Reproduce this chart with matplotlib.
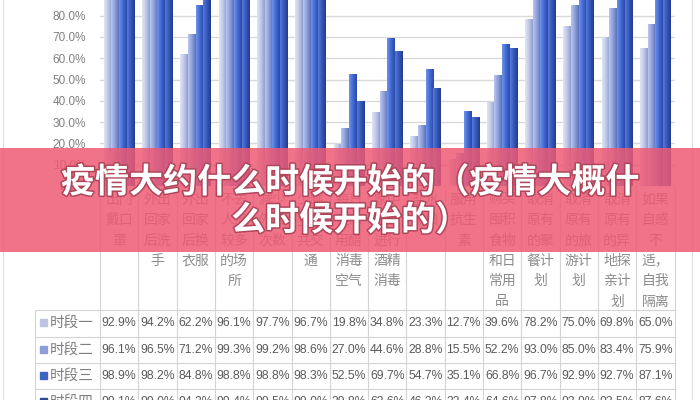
import matplotlib
matplotlib.use("Agg")
import matplotlib.pyplot as plt
import matplotlib.patheffects as pe
from matplotlib.colors import LinearSegmentedColormap
import numpy as np

plt.rcParams['font.family'] = ['Noto Sans CJK SC', 'DejaVu Sans']

# --- data ---
categories = [
    ["出门", "戴口", "罩"],
    ["外出", "回家", "后洗", "手"],
    ["外出", "回家", "后换", "衣服"],
    ["不去", "人流", "较多", "的场", "所"],
    ["减少", "外出", "次数"],
    ["少乘", "坐公", "共交", "通"],
    ["每日", "在家", "用醋", "消毒", "空气"],
    ["家中", "经常", "进行", "酒精", "消毒"],
    ["盐水", "漱口"],
    ["服用", "抗生", "素"],
    ["购买", "囤积", "食物", "和日", "常用", "品"],
    ["取消", "原有", "的聚", "餐计", "划"],
    ["取消", "原有", "的旅", "游计", "划"],
    ["取消", "原有", "的异", "地探", "亲计", "划"],
    ["如果", "自感", "不", "适，", "自我", "隔离"],
]
series_names = ["时段一", "时段二", "时段三", "时段四"]
period1 = [92.9, 94.2, 62.2, 96.1, 97.7, 96.7, 19.8, 34.8, 23.3, 12.7, 39.6, 78.2, 75.0, 69.8, 65.0]
period2 = [96.1, 96.5, 71.2, 99.3, 99.2, 98.6, 27.0, 44.6, 28.8, 15.5, 52.2, 93.0, 85.0, 83.4, 75.9]
period3 = [98.9, 98.2, 84.8, 98.8, 98.8, 98.3, 52.5, 69.7, 54.7, 35.1, 66.8, 96.7, 92.9, 92.7, 87.1]
period4 = [99.1, 99.0, 94.2, 99.4, 99.5, 99.0, 39.8, 63.6, 46.2, 32.4, 64.6, 97.8, 93.9, 93.5, 87.6]
series = [period1, period2, period3, period4]
yticks = list(range(0, 101, 10))
title_lines = ["疫情大约什么时候开始的（疫情大概什", "么时候开始的）"]

# --- styles ---
swatch = ["#BCC4E2", "#8C9FD8", "#3D64C4", "#2C4A98"]
gradients = [
    ["#E2E6F4", "#BFC8E8", "#909ECE"],
    ["#BCC7EE", "#8C9FDC", "#5D72B6"],
    ["#7193E8", "#4069D4", "#2A49A6"],
    ["#5679D8", "#3557BC", "#223C88"],
]
W, H = 700, 400
col_left, col_w = 100, 38.3
axis_zero_px = 186
px_per_10 = 21.3

fig = plt.figure(figsize=(7, 4), dpi=100)
ax = fig.add_axes([col_left / W, (H - axis_zero_px) / H,
                   col_w * len(categories) / W, px_per_10 * 10 / H])
x = np.arange(len(categories))
bw = 0.2
for k, vals in enumerate(series):
    bars = ax.bar(x + (k - 1.5) * bw, vals, width=bw, color=swatch[k],
                  edgecolor="none", zorder=2)
    # horizontal shading to mimic the cylinder look
    cmap = LinearSegmentedColormap.from_list(f"g{k}", gradients[k])
    grad = np.linspace(0, 1, 64).reshape(1, -1)
    for b in bars:
        im = ax.imshow(grad, cmap=cmap, aspect="auto", zorder=3,
                       extent=[b.get_x(), b.get_x() + b.get_width(), 0, b.get_height()])
        im.set_clip_path(b)
ax.set_xlim(-0.5, len(categories) - 0.5)
ax.set_ylim(0, 100)
ax.set_yticks(yticks)
ax.set_yticklabels([f"{v:.1f}%" for v in yticks], color="#808080",
                   fontsize=8.5, family="Liberation Sans")
ax.tick_params(axis="y", length=0, pad=10)
ax.set_xticks([])
ax.yaxis.grid(True, color="#D9D9D9", lw=1)
ax.set_axisbelow(True)
for s in ax.spines.values():
    s.set_visible(False)

# --- data table + overlay in pixel coordinates ---
ov = fig.add_axes([0, 0, 1, 1], zorder=5)
ov.set_xlim(0, W)
ov.set_ylim(H, 0)
ov.axis("off")
ov.patch.set_alpha(0)

line_c = "#D4D4D4"
n = len(categories)
right = col_left + col_w * n
row_tops = [310, 336.5, 363, 389]
row_mid = [323, 350, 376, 402]
for i in range(n + 1):
    xx = col_left + col_w * i
    ov.plot([xx, xx], [axis_zero_px, H], color=line_c, lw=0.8)
ov.plot([35, 35], [row_tops[0], H], color=line_c, lw=0.8)
for yy in row_tops:
    ov.plot([35, right], [yy, yy], color=line_c, lw=0.8)
ov.plot([3, 3], [0, H], color="#E0E0E0", lw=0.8)
ov.plot([692, 692], [0, H], color="#E0E0E0", lw=0.8)

for i, lines in enumerate(categories):
    cx = col_left + col_w * (i + 0.5)
    for j, t in enumerate(lines):
        ov.text(cx, 200 + j * 20.3, t, ha="center", va="center",
                fontsize=10, color="#8C8C8C")

for k, vals in enumerate(series):
    ym = row_mid[k]
    ov.add_patch(plt.Rectangle((40, ym - 4), 7, 7, color=swatch[k]))
    ov.text(50, ym, series_names[k], ha="left", va="center",
            fontsize=10.5, color="#7F7F7F")
    for i, v in enumerate(vals):
        cx = col_left + col_w * (i + 0.5)
        ov.text(cx, ym, f"{v:.1f}%", ha="center", va="center", fontsize=8.8,
                color="#5A5A5A", family="Liberation Sans")

# --- pink banner with title ---
ov.add_patch(plt.Rectangle((0, 148), W, 104, color="#EE5A74", alpha=0.85,
                           lw=0, zorder=10))
for j, t in enumerate(title_lines):
    ov.text(W / 2, 182 + j * 38, t, ha="center", va="center", fontsize=24.5,
            fontweight="bold", color="white", zorder=11,
            path_effects=[pe.withStroke(linewidth=2.2, foreground="#B0465A")])

fig.savefig("out.png", dpi=100)
